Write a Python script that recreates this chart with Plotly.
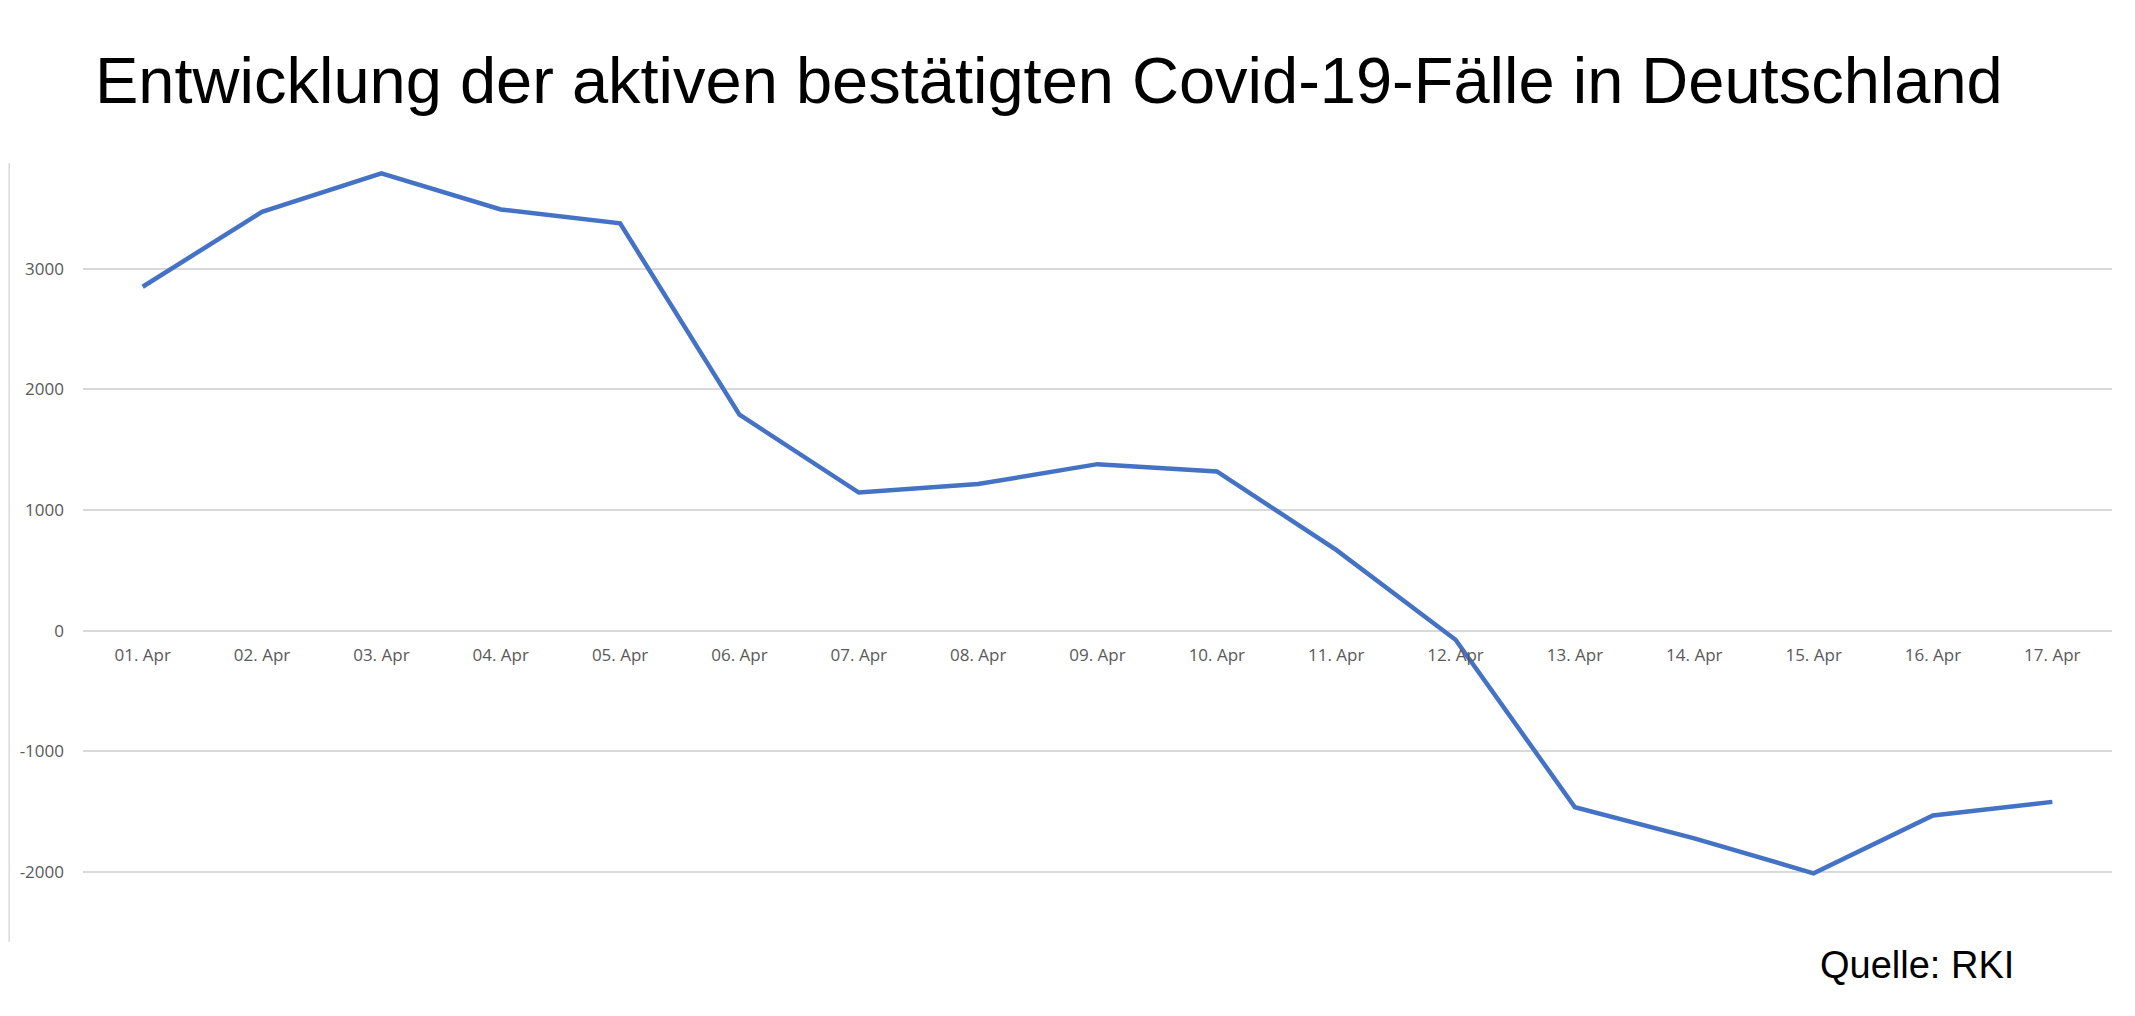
import plotly.graph_objects as go

dates = ["01. Apr", "02. Apr", "03. Apr", "04. Apr", "05. Apr", "06. Apr", "07. Apr",
         "08. Apr", "09. Apr", "10. Apr", "11. Apr", "12. Apr", "13. Apr", "14. Apr",
         "15. Apr", "16. Apr", "17. Apr"]
active_change = [2850, 3470, 3790, 3490, 3375, 1790, 1145, 1215, 1380, 1320, 670, -75,
                 -1463, -1720, -2010, -1530, -1418]
y_tickvals = [-2000, -1000, 0, 1000, 2000, 3000]
y_ticktext = ["-2000", "-1000", "0", "1000", "2000", "3000"]

title_text = "Entwicklung der aktiven bestätigten Covid-19-Fälle in Deutschland"
source_text = "Quelle: RKI"

# page offset of the plot div (default body margin)
OFF = 8
PW, PH = 2135, 1016          # page size
W, H = PW - OFF, PH - OFF    # figure size
# plot area in page coordinates
px0, px1, py0, py1 = 77, 2112, 163, 942
L, R, T, B = px0 - OFF, (OFF + W) - px1, py0 - OFF, (OFF + H) - py1
y_min, y_max = -2579, 3875
plot_w, plot_h = px1 - px0, py1 - py0


def paper_x(page_x):
    return (page_x - px0) / plot_w


def paper_y(page_y):
    return (py1 - page_y) / plot_h


fig = go.Figure()
fig.add_trace(go.Scatter(
    x=dates, y=active_change, mode="lines",
    line=dict(color="#4472C4", width=4.5),
    hoverinfo="x+y", showlegend=False,
))

zero_pos = (0 - y_min) / (y_max - y_min)

fig.update_layout(
    width=W, height=H,
    margin=dict(l=L, r=R, t=T, b=B, pad=0),
    paper_bgcolor="white", plot_bgcolor="white",
    title=dict(
        text=title_text, xref="container", yref="container",
        x=(95 - OFF) / W, xanchor="left", y=1 - (80 - OFF) / H, yanchor="middle",
        font=dict(family="Liberation Sans, Arial, sans-serif", size=65, color="black"),
    ),
    xaxis=dict(
        type="category", categoryorder="array", categoryarray=dates,
        range=[-0.5, len(dates) - 0.5],
        anchor="free", position=zero_pos,
        showgrid=False, zeroline=False, showline=False, ticks="",
        ticklabelstandoff=12,
        tickfont=dict(family="Open Sans, Noto Sans, sans-serif", size=17, color="#595959"),
    ),
    yaxis=dict(
        range=[y_min, y_max], tickvals=y_tickvals, ticktext=y_ticktext,
        showgrid=True, gridcolor="#d9d9d9", gridwidth=1.5,
        zeroline=False, showline=False, ticks="",
        ticklabelstandoff=18,
        tickfont=dict(family="Open Sans, Noto Sans, sans-serif", size=17, color="#595959"),
    ),
    annotations=[dict(
        text=source_text, xref="paper", yref="paper",
        x=paper_x(2016), xanchor="right",
        y=paper_y(965), yanchor="middle",
        showarrow=False,
        font=dict(family="Liberation Sans, Arial, sans-serif", size=38, color="black"),
    )],
    shapes=[
        dict(type="line", xref="paper", yref="paper",
             x0=paper_x(3), x1=paper_x(3), y0=0, y1=1,
             line=dict(color="#d9d9d9", width=1.5)),
        dict(type="line", xref="paper", yref="paper",
             x0=paper_x(2133.5), x1=paper_x(2133.5), y0=0, y1=1,
             line=dict(color="#d9d9d9", width=1.5)),
    ],
)

fig.write_html("out.html")
